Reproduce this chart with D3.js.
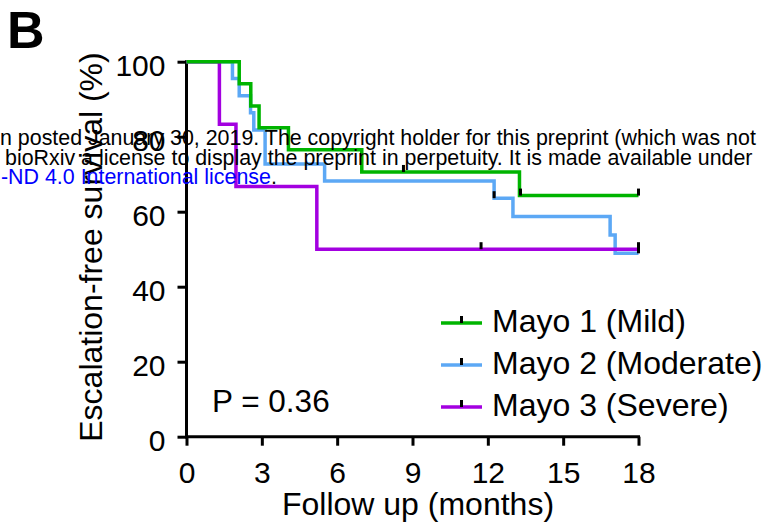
<!DOCTYPE html>
<html>
<head>
<meta charset="utf-8">
<script src="https://cdn.jsdelivr.net/npm/d3@7"></script>
<style>
  body { margin: 0; background: #fff; }
  svg { display: block; font-family: "Liberation Sans", Arial, sans-serif; }
</style>
</head>
<body>
<svg width="779" height="528"></svg>
<script>
// tick labels
var xTicks = [0, 3, 6, 9, 12, 15, 18];
var yTicks = [0, 20, 40, 60, 80, 100];

// Mayo 1 (Mild)
var mildTime = [0, 2.1, 2.56, 2.89, 4.06, 6.98, 13.26];
var mildSurv = [100, 94.1, 88.2, 82.4, 76.5, 70.6, 64.3];
var mildCensorTime = [8.64, 13.3, 18];
var mildCensorSurv = [70.6, 64.3, 64.3];

// Mayo 2 (Moderate)
var modTime = [0, 1.83, 2.1, 2.55, 2.68, 3.13, 5.5, 12.25, 13.0, 16.87, 17.07];
var modSurv = [100, 95.5, 90.9, 86.4, 81.8, 72.7, 68.2, 63.6, 58.7, 53.8, 48.9];
var modCensorTime = [12.25, 18];
var modCensorSurv = [63.6, 48.9];

// Mayo 3 (Severe)
var sevTime = [0, 1.31, 1.97, 5.19];
var sevSurv = [100, 83.3, 66.7, 50];
var sevCensorTime = [11.73, 18];
var sevCensorSurv = [50, 50];

var groups = ['Mayo 1 (Mild)', 'Mayo 2 (Moderate)', 'Mayo 3 (Severe)'];
var colors = ['#00b400', '#5ca8f5', '#a300e0'];
var endTime = 18;

var svg = d3.select('svg');

var x = d3.scaleLinear().domain([0, 18]).range([186.5, 638.5]);
var y = d3.scaleLinear().domain([0, 100]).range([436.7, 61.7]);

function pairs(t, s) {
  return t.map(function(d, i) { return [d, s[i]]; });
}

var series = [
  { name: groups[0], color: colors[0], pts: pairs(mildTime, mildSurv), cens: pairs(mildCensorTime, mildCensorSurv) },
  { name: groups[1], color: colors[1], pts: pairs(modTime, modSurv), cens: pairs(modCensorTime, modCensorSurv) },
  { name: groups[2], color: colors[2], pts: pairs(sevTime, sevSurv), cens: pairs(sevCensorTime, sevCensorSurv) }
];
series.forEach(function(s) {
  s.pts.push([endTime, s.pts[s.pts.length - 1][1]]);
});

// axes
var xAxis = svg.append('g')
  .attr('transform', 'translate(0,' + y(0) + ')')
  .call(d3.axisBottom(x).tickValues(xTicks).tickSize(9).tickSizeOuter(0).tickPadding(16));

var yAxis = svg.append('g')
  .attr('transform', 'translate(' + x(0) + ',0)')
  .call(d3.axisLeft(y).tickValues(yTicks).tickSize(9).tickSizeOuter(0).tickPadding(12));

svg.selectAll('.domain, .tick line').attr('stroke', '#000').attr('stroke-width', 3);
xAxis.selectAll('.domain').attr('d', 'M' + (x(0) - 1.5) + ',0H' + (x(18) + 1.5));
yAxis.selectAll('.domain').attr('d', 'M0,' + (y(0) + 1.5) + 'V' + (y(100) - 1.5));
svg.selectAll('.tick text').attr('font-size', 30).attr('fill', '#000')
  .attr('font-family', '"Liberation Sans", Arial, sans-serif');
yAxis.selectAll('.tick text').attr('dy', '0.47em');

// curves
var line = d3.line()
  .x(function(d) { return x(d[0]); })
  .y(function(d) { return y(d[1]); })
  .curve(d3.curveStepAfter);

var drawOrder = [series[1], series[2], series[0]];

svg.selectAll('path.km')
  .data(drawOrder)
  .enter()
  .append('path')
    .attr('class', 'km')
    .attr('d', function(d) { return line(d.pts); })
    .attr('fill', 'none')
    .attr('stroke', function(d) { return d.color; })
    .attr('stroke-width', 3.5)
    .attr('stroke-linejoin', 'miter');

// censor marks
series.forEach(function(s) {
  svg.selectAll(null)
    .data(s.cens)
    .enter()
    .append('line')
      .attr('x1', function(d) { return x(d[0]); })
      .attr('x2', function(d) { return x(d[0]); })
      .attr('y1', function(d) { return y(d[1]); })
      .attr('y2', function(d) { return y(d[1]) - 7; })
      .attr('stroke', '#000')
      .attr('stroke-width', 3);
});

// axis titles
svg.append('text')
  .attr('x', 418)
  .attr('y', 515)
  .attr('text-anchor', 'middle')
  .attr('font-size', 32)
  .text('Follow up (months)');

svg.append('text')
  .attr('transform', 'translate(102,247) rotate(-90)')
  .attr('text-anchor', 'middle')
  .attr('font-size', 32)
  .text('Escalation-free survival (%)');

// legend
var legendY = [323, 365, 407];
var legend = svg.selectAll('g.legend')
  .data(series)
  .enter()
  .append('g')
    .attr('class', 'legend')
    .attr('transform', function(d, i) { return 'translate(0,' + legendY[i] + ')'; });

legend.append('line')
  .attr('x1', 441).attr('x2', 482)
  .attr('stroke', function(d) { return d.color; })
  .attr('stroke-width', 3.5);
legend.append('line')
  .attr('x1', 461.5).attr('x2', 461.5)
  .attr('y1', 0).attr('y2', -7)
  .attr('stroke', '#000')
  .attr('stroke-width', 3);
legend.append('text')
  .attr('x', 492)
  .attr('y', 9)
  .attr('font-size', 32)
  .text(function(d) { return d.name; });

// p value
svg.append('text')
  .attr('x', 212)
  .attr('y', 412)
  .attr('font-size', 31.5)
  .text('P = 0.36');

// panel letter
svg.append('text')
  .attr('x', 7)
  .attr('y', 48)
  .attr('font-size', 52)
  .attr('font-weight', 'bold')
  .text('B');

// preprint notice overlay
var notice = svg.append('g').attr('font-size', 21.4);
notice.append('text').attr('x', 0).attr('y', 145)
  .text('n posted January 30, 2019. The copyright holder for this preprint (which was not');
notice.append('text').attr('x', 5).attr('y', 164.5)
  .text('bioRxiv a license to display the preprint in perpetuity. It is made available under');
var l3 = notice.append('text').attr('x', 1).attr('y', 184);
l3.append('tspan').attr('fill', '#0000ff').text('-ND 4.0 International license');
l3.append('tspan').attr('fill', '#000').text('.');
</script>
</body>
</html>
